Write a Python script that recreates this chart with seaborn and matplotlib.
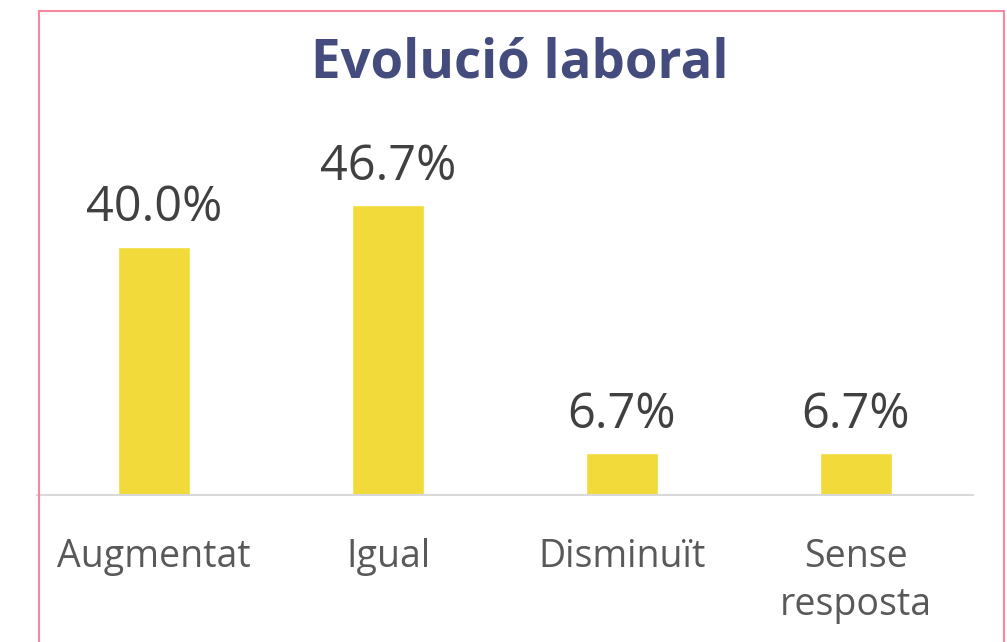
import pandas as pd
import seaborn as sns
import matplotlib.pyplot as plt
from matplotlib.patches import Rectangle

# dades
categories = ['Augmentat', 'Igual', 'Disminuït', 'Sense\nresposta']
valors = [40.0, 46.7, 6.7, 6.7]
etiquetes = ['40.0%', '46.7%', '6.7%', '6.7%']

df = pd.DataFrame({'categoria': categories, 'valor': valors})

sns.set_style('white')
plt.rcParams['font.family'] = ['Open Sans', 'DejaVu Sans']

fig = plt.figure(figsize=(10.07, 6.42), dpi=100)
ax = fig.add_axes([37 / 1007, 147 / 642, 936 / 1007, 485 / 642])

sns.barplot(data=df, x='categoria', y='valor', color='#F1DA3A', width=0.31,
            saturation=1, ax=ax)

ax.set_xlim(-0.5, 3.5)
ax.set_ylim(0, 485 / 6.2)

for cont in ax.containers:
    ax.bar_label(cont, labels=etiquetes, padding=10, fontsize=35, color='#404040')

ax.set_xlabel('')
ax.set_ylabel('')
ax.set_yticks([])
ax.tick_params(axis='x', length=0, pad=31, labelsize=27, labelcolor='#595959')
for lab in ax.get_xticklabels():
    lab.set_linespacing(1.35)

for s in ['top', 'right', 'left']:
    ax.spines[s].set_visible(False)
ax.spines['bottom'].set_color('#D9D9D9')
ax.spines['bottom'].set_linewidth(1.5)

fig.text(520 / 1007, 1 - 63 / 642, 'Evolució laboral', ha='center', va='center',
         fontsize=38, fontweight='bold', color='#444C7E')

# vora rosa
fig.patches.append(Rectangle((38.5 / 1007, -0.1), (1004 - 38.5) / 1007, 1.1 - 10.5 / 642,
                             transform=fig.transFigure, fill=False,
                             edgecolor='#F4889E', linewidth=1.5))

plt.savefig('out.png', dpi=100)
